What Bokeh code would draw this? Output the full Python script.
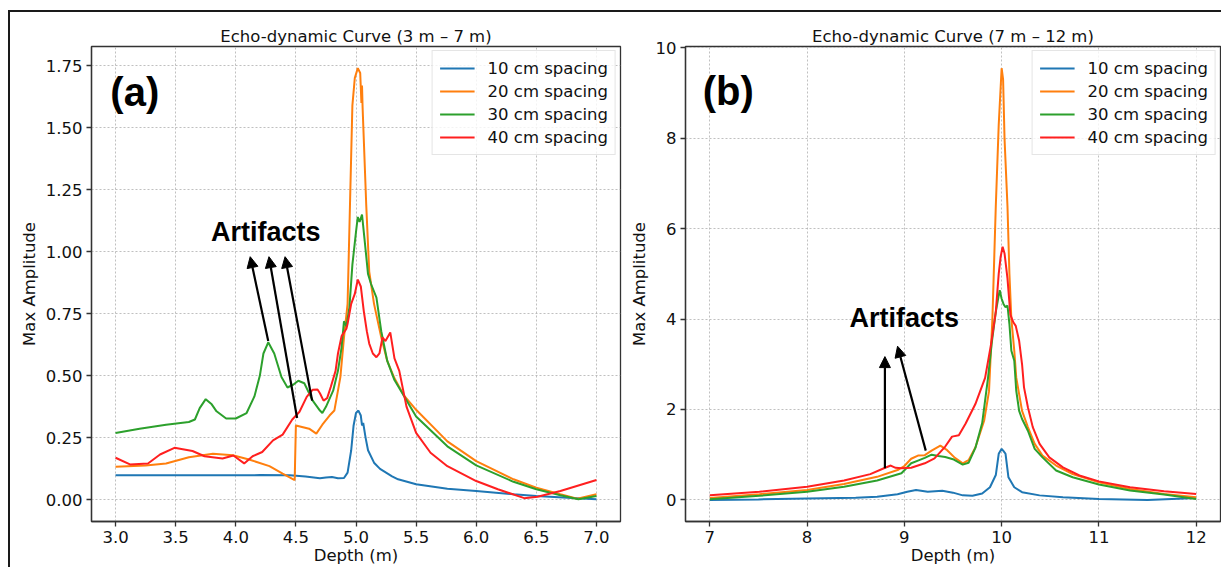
from bokeh.plotting import figure
from bokeh.layouts import row
from bokeh.models import Range1d, FixedTicker, PrintfTickFormatter, Label, Arrow, NormalHead
from bokeh.embed import file_html
from bokeh.resources import INLINE

SERIES = ["10 cm spacing", "20 cm spacing", "30 cm spacing", "40 cm spacing"]
COLORS = ["#1f77b4", "#ff7f0e", "#2ca02c", "#ff1f1f"]

# ---------------- Panel (a): 3 m - 7 m ----------------
A_X_TICKS = [3.0, 3.5, 4.0, 4.5, 5.0, 5.5, 6.0, 6.5, 7.0]
A_Y_TICKS = [0.0, 0.25, 0.5, 0.75, 1.0, 1.25, 1.5, 1.75]

A10_X = [3.0, 3.5, 4.0, 4.2, 4.45, 4.58, 4.7, 4.75, 4.8, 4.85, 4.9, 4.93, 4.96, 4.98, 5.0, 5.02,
         5.04, 5.05, 5.06, 5.08, 5.1, 5.15, 5.2, 5.3, 5.35, 5.5, 5.76, 6.0, 6.31, 6.5, 6.76, 7.0]
A10_Y = [0.099, 0.099, 0.099, 0.1, 0.099, 0.094, 0.087, 0.09, 0.092, 0.087, 0.088, 0.11, 0.2, 0.3,
         0.35, 0.36, 0.34, 0.3, 0.31, 0.25, 0.2, 0.15, 0.125, 0.095, 0.083, 0.063, 0.045, 0.036,
         0.023, 0.016, 0.009, 0.003]

A20_X = [3.0, 3.25, 3.42, 3.61, 3.81, 3.975, 4.11, 4.28, 4.39, 4.49, 4.5, 4.61, 4.67, 4.72, 4.78,
         4.82, 4.87, 4.90, 4.93, 4.95, 4.97, 4.99, 5.015, 5.035, 5.045, 5.05, 5.055, 5.065, 5.085,
         5.11, 5.15, 5.21, 5.26, 5.32, 5.4, 5.5, 5.76, 6.0, 6.31, 6.5, 6.7, 6.84, 7.0]
A20_Y = [0.134, 0.139, 0.147, 0.172, 0.186, 0.18, 0.163, 0.136, 0.106, 0.08, 0.30, 0.287, 0.267,
         0.303, 0.34, 0.36, 0.495, 0.655, 0.79, 1.19, 1.59, 1.70, 1.74, 1.72, 1.60, 1.67, 1.58,
         1.45, 1.19, 0.92, 0.79, 0.655, 0.56, 0.49, 0.42, 0.363, 0.236, 0.156, 0.083, 0.049,
         0.023, 0.005, 0.023]

A30_X = [3.0, 3.2, 3.42, 3.61, 3.66, 3.70, 3.75, 3.80, 3.84, 3.92, 4.0, 4.09, 4.155, 4.2, 4.23,
         4.27, 4.32, 4.38, 4.43, 4.48, 4.52, 4.57, 4.64, 4.70, 4.72, 4.75, 4.81, 4.85, 4.88, 4.90,
         4.92, 4.945, 4.97, 5.0, 5.015, 5.03, 5.05, 5.07, 5.10, 5.125, 5.17, 5.21, 5.26, 5.32, 5.5,
         5.76, 6.0, 6.31, 6.5, 6.7, 6.85, 7.0]
A30_Y = [0.27, 0.287, 0.303, 0.314, 0.324, 0.37, 0.406, 0.385, 0.357, 0.328, 0.328, 0.35, 0.417,
         0.50, 0.59, 0.635, 0.59, 0.495, 0.453, 0.465, 0.48, 0.47, 0.40, 0.36, 0.35, 0.375, 0.44,
         0.52, 0.615, 0.72, 0.70, 0.775, 0.948, 1.08, 1.14, 1.12, 1.15, 1.055, 0.91, 0.87, 0.815,
         0.68, 0.56, 0.483, 0.336, 0.216, 0.139, 0.073, 0.043, 0.019, 0.003, 0.016]

A40_X = [3.0, 3.12, 3.27, 3.37, 3.49, 3.64, 3.74, 3.89, 3.98, 4.07, 4.14, 4.22, 4.31, 4.39, 4.47,
         4.53, 4.59, 4.64, 4.68, 4.70, 4.73, 4.76, 4.79, 4.83, 4.85, 4.88, 4.92, 4.93, 4.96, 4.99,
         5.015, 5.04, 5.065, 5.09, 5.11, 5.14, 5.17, 5.195, 5.22, 5.245, 5.285, 5.32, 5.36, 5.42,
         5.5, 5.62, 5.76, 6.0, 6.18, 6.4, 6.51, 6.7, 7.0]
A40_Y = [0.17, 0.143, 0.147, 0.183, 0.21, 0.197, 0.176, 0.167, 0.179, 0.147, 0.176, 0.193, 0.24,
         0.263, 0.324, 0.355, 0.415, 0.444, 0.445, 0.43, 0.40, 0.41, 0.455, 0.52, 0.59, 0.66, 0.69,
         0.71, 0.79, 0.83, 0.888, 0.86, 0.76, 0.68, 0.63, 0.59, 0.575, 0.59, 0.655, 0.64, 0.675,
         0.57, 0.52, 0.376, 0.27, 0.19, 0.136, 0.076, 0.043, 0.007, 0.013, 0.036, 0.08]

# ---------------- Panel (b): 7 m - 12 m ----------------
B_X_TICKS = [7, 8, 9, 10, 11, 12]
B_Y_TICKS = [0, 2, 4, 6, 8, 10]

B10_X = [7.0, 7.5, 8.0, 8.5, 8.72, 8.93, 9.03, 9.12, 9.24, 9.39, 9.5, 9.6, 9.7, 9.8, 9.88, 9.94,
         9.97, 10.0, 10.02, 10.04, 10.07, 10.13, 10.21, 10.39, 10.63, 11.0, 11.5, 12.0]
B10_Y = [0.0, 0.01, 0.03, 0.05, 0.07, 0.125, 0.18, 0.22, 0.18, 0.2, 0.16, 0.1, 0.09, 0.14, 0.28,
         0.55, 1.02, 1.13, 1.08, 1.02, 0.5, 0.28, 0.17, 0.1, 0.06, 0.02, 0.0, 0.04]

B20_X = [7.0, 7.51, 8.0, 8.38, 8.72, 8.93, 9.0, 9.07, 9.14, 9.21, 9.28, 9.37, 9.44, 9.52, 9.6,
         9.66, 9.73, 9.82, 9.87, 9.905, 9.94, 9.97, 10.0, 10.015, 10.03, 10.06, 10.08, 10.10,
         10.13, 10.15, 10.18, 10.21, 10.27, 10.34, 10.42, 10.56, 10.73, 11.0, 11.32, 11.67, 12.0]
B20_Y = [0.044, 0.125, 0.22, 0.35, 0.51, 0.66, 0.75, 0.91, 0.98, 0.99, 1.09, 1.2, 1.1, 0.93, 0.81,
         0.88, 1.16, 1.75, 2.4, 4.0, 6.5, 8.3, 9.55, 9.3, 7.98, 6.5, 5.0, 4.0, 3.3, 2.71, 2.34,
         1.97, 1.61, 1.24, 0.98, 0.76, 0.57, 0.39, 0.24, 0.13, 0.06]

B30_X = [7.0, 7.51, 8.0, 8.38, 8.72, 8.97, 9.07, 9.14, 9.21, 9.28, 9.35, 9.42, 9.5, 9.6, 9.66,
         9.73, 9.8, 9.86, 9.9, 9.94, 9.98, 10.0, 10.02, 10.04, 10.06, 10.08, 10.10, 10.13, 10.15,
         10.18, 10.21, 10.27, 10.34, 10.42, 10.56, 10.73, 11.0, 11.32, 11.67, 12.0]
B30_Y = [0.015, 0.09, 0.18, 0.29, 0.43, 0.59, 0.81, 0.87, 0.93, 1.0, 0.97, 0.95, 0.9, 0.78, 0.82,
         1.15, 1.7, 2.7, 3.5, 4.16, 4.64, 4.45, 4.33, 4.26, 4.3, 3.89, 3.3, 3.08, 2.42, 1.97,
         1.79, 1.53, 1.13, 0.94, 0.65, 0.5, 0.34, 0.21, 0.12, 0.02]

B40_X = [7.0, 7.51, 8.0, 8.38, 8.65, 8.79, 8.86, 8.91, 8.97, 9.07, 9.21, 9.31, 9.42, 9.49, 9.56,
         9.63, 9.73, 9.83, 9.89, 9.94, 9.97, 9.99, 10.01, 10.03, 10.06, 10.09, 10.12, 10.145,
         10.18, 10.21, 10.23, 10.27, 10.32, 10.39, 10.49, 10.63, 10.8, 11.0, 11.32, 11.67, 12.0]
B40_Y = [0.1, 0.18, 0.29, 0.43, 0.57, 0.70, 0.76, 0.71, 0.70, 0.71, 0.81, 0.92, 1.18, 1.40, 1.43,
         1.69, 2.12, 2.7, 3.43, 4.16, 5.0, 5.38, 5.6, 5.45, 4.9, 4.1, 3.93, 3.85, 3.52, 3.0, 2.49,
         2.05, 1.61, 1.24, 0.94, 0.72, 0.54, 0.41, 0.28, 0.19, 0.13]

# annotations (data coordinates)
A_ARROWS = [(4.27, 0.64, 4.12, 0.98), (4.51, 0.33, 4.276, 0.98), (4.635, 0.40, 4.41, 0.98)]
A_ART_POS = (4.25, 1.08)
A_TAG_POS = (3.16, 1.645)
B_ARROWS = [(8.80, 0.70, 8.80, 3.17), (9.22, 1.09, 8.93, 3.40)]
B_ART_POS = (9.0, 4.03)
B_TAG_POS = (7.19, 9.05)

FONT = "DejaVu Sans"
BOLD_FONT = "Liberation Sans"
FS = "16.5px"
SPINE = "#333333"
FIG_H = 555


def make_panel(title, xr, yr, xticks, yticks, xfmt, yfmt, width, mbl, mbr, series, arrows,
               art_pos, tag, tag_pos):
    p = figure(width=width, height=FIG_H, x_range=Range1d(*xr), y_range=Range1d(*yr),
               output_backend="svg", toolbar_location=None, title=title,
               min_border_left=mbl, min_border_right=mbr, min_border_top=34,
               min_border_bottom=44)
    p.title.align = "center"
    p.title.text_font = FONT
    p.title.text_font_size = FS
    p.title.text_font_style = "normal"
    p.title.text_color = "#111111"
    p.title.standoff = 1
    p.outline_line_color = SPINE
    p.outline_line_width = 1.3
    p.outline_line_alpha = 1.0

    p.xaxis.ticker = FixedTicker(ticks=xticks)
    p.yaxis.ticker = FixedTicker(ticks=yticks)
    if xfmt:
        p.xaxis.formatter = PrintfTickFormatter(format=xfmt)
    if yfmt:
        p.yaxis.formatter = PrintfTickFormatter(format=yfmt)
    p.xaxis.axis_label = "Depth (m)"
    p.yaxis.axis_label = "Max Amplitude"
    for ax in (p.xaxis, p.yaxis):
        ax.axis_label_text_font = FONT
        ax.axis_label_text_font_size = FS
        ax.axis_label_text_font_style = "normal"
        ax.axis_label_text_color = "#111111"
        ax.major_label_text_font = FONT
        ax.major_label_text_font_size = FS
        ax.major_label_text_color = "#111111"
        ax.minor_tick_line_color = None
        ax.major_tick_in = 0
        ax.major_tick_out = 5
        ax.major_tick_line_color = SPINE
        ax.major_tick_line_width = 1.3
        ax.axis_line_color = SPINE
        ax.axis_line_width = 1.3
    p.xaxis.major_label_standoff = 4
    p.xaxis.axis_label_standoff = 0
    p.yaxis.major_label_standoff = 4
    p.yaxis.axis_label_standoff = 4

    for g in (p.xgrid, p.ygrid):
        g.grid_line_color = "#b0b0b0"
        g.grid_line_alpha = 0.8
        g.grid_line_dash = "2 2"
        g.grid_line_width = 1

    for (xs, ys), name, col in zip(series, SERIES, COLORS):
        p.line(xs, ys, line_color=col, line_width=2, legend_label=name)

    lg = p.legend[0]
    lg.location = "top_right"
    lg.margin = 4
    lg.padding = 7
    lg.spacing = 3
    lg.label_height = 20
    lg.glyph_height = 20
    lg.glyph_width = 35
    lg.label_standoff = 13
    lg.label_text_font = FONT
    lg.label_text_font_size = FS
    lg.label_text_color = "#111111"
    lg.border_line_color = "#cccccc"
    lg.border_line_width = 1
    lg.background_fill_alpha = 0.8

    for (x0, y0, x1, y1) in arrows:
        p.add_layout(Arrow(x_start=x0, y_start=y0, x_end=x1, y_end=y1, line_color="black",
                           line_width=2.2,
                           end=NormalHead(size=11, fill_color="black", line_color="black",
                                          line_width=1)))
    p.add_layout(Label(x=art_pos[0], y=art_pos[1], text="Artifacts", text_align="center",
                       text_baseline="middle", text_font=BOLD_FONT, text_font_size="27px",
                       text_font_style="bold", text_color="black"))
    p.add_layout(Label(x=tag_pos[0], y=tag_pos[1], text=tag, text_align="center",
                       text_baseline="middle", text_font=BOLD_FONT, text_font_size="40px",
                       text_font_style="bold", text_color="black"))
    return p


pa = make_panel("Echo-dynamic Curve (3 m \u2013 7 m)", (2.8, 7.2), (-0.087, 1.827),
                A_X_TICKS, A_Y_TICKS, "%.1f", "%.2f", 615, 81, 5,
                [(A10_X, A10_Y), (A20_X, A20_Y), (A30_X, A30_Y), (A40_X, A40_Y)],
                A_ARROWS, A_ART_POS, "(a)", A_TAG_POS)
pb = make_panel("Echo-dynamic Curve (7 m \u2013 12 m)", (6.75, 12.25), (-0.478, 10.03),
                B_X_TICKS, B_Y_TICKS, None, None, 596, 60, 1,
                [(B10_X, B10_Y), (B20_X, B20_Y), (B30_X, B30_Y), (B40_X, B40_Y)],
                B_ARROWS, B_ART_POS, "(b)", B_TAG_POS)

layout = row(pa, pb, margin=(10, 0, 0, 8),
             styles={"border-left": "2px solid #1a1a1a", "border-top": "2px solid #1a1a1a"})

open("out.html", "w").write(file_html(layout, INLINE))
